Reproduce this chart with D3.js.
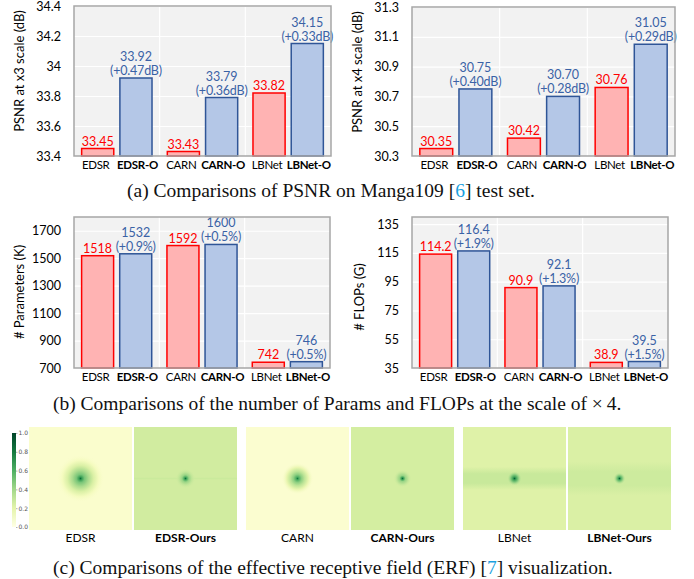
<!DOCTYPE html>
<html>
<head>
<meta charset="utf-8">
<script src="https://cdn.jsdelivr.net/npm/d3@7"></script>
<style>
  body { margin: 0; background: #fff; }
</style>
</head>
<body>
<script>
var width = 694, height = 579;
var sans = "Lato, 'Open Sans', sans-serif";
var serif = "'Liberation Serif', 'Times New Roman', serif";

// ---- data ----
var groups = ["EDSR", "CARN", "LBNet"];
var oursNames = ["EDSR-O", "CARN-O", "LBNet-O"];

var psnrX3Base = [33.45, 33.43, 33.82];
var psnrX3Ours = [33.92, 33.79, 34.15];
var psnrX3Gain = ["(+0.47dB)", "(+0.36dB)", "(+0.33dB)"];
var psnrX3Ticks = [33.4, 33.6, 33.8, 34, 34.2, 34.4];

var psnrX4Base = [30.35, 30.42, 30.76];
var psnrX4Ours = [30.75, 30.70, 31.05];
var psnrX4Gain = ["(+0.40dB)", "(+0.28dB)", "(+0.29dB)"];
var psnrX4Ticks = [30.3, 30.5, 30.7, 30.9, 31.1, 31.3];

var paramsBase = [1518, 1592, 742];
var paramsOurs = [1532, 1600, 746];
var paramsGain = ["(+0.9%)", "(+0.5%)", "(+0.5%)"];
var paramsTicks = [700, 900, 1100, 1300, 1500, 1700];

var flopsBase = [114.2, 90.9, 38.9];
var flopsOurs = [116.4, 92.1, 39.5];
var flopsGain = ["(+1.9%)", "(+1.3%)", "(+1.5%)"];
var flopsTicks = [35, 55, 75, 95, 115, 135];

// ERF panels: background value, optional horizontal band [halfHeight, value], radial profile [radius, value]
var erfNames = ["EDSR", "EDSR-Ours", "CARN", "CARN-Ours", "LBNet", "LBNet-Ours"];
var erfBg = [0.07, 0.27, 0.06, 0.26, 0.22, 0.24];
var erfBand = [null, [1, 0.29], null, null, [9, 0.295], [13, 0.28]];
var erfProfile = [
  [[0, 0.85], [1.5, 0.66], [4, 0.5], [8, 0.38], [13, 0.24], [18, 0.12], [24, 0.07]],
  [[0, 0.85], [1.5, 0.6], [3.5, 0.42], [6, 0.33], [10, 0.27]],
  [[0, 0.8], [1.5, 0.6], [4, 0.45], [7, 0.33], [11, 0.18], [16, 0.06]],
  [[0, 0.85], [1.5, 0.6], [3, 0.42], [6, 0.31], [9, 0.26]],
  [[0, 0.9], [1.5, 0.65], [4, 0.45], [7, 0.32]],
  [[0, 0.9], [1.5, 0.6], [3.5, 0.42], [6, 0.3]]
];
var colorbarTicks = [0, 0.2, 0.4, 0.6, 0.8, 1.0];

var svg = d3.select("body").append("svg")
  .attr("width", width)
  .attr("height", height)
  .style("font-family", sans);
var defs = svg.append("defs");

var redFill = "#ffb3b3", redLine = "#ff0000";
var blueFill = "#b4c7e7", blueLine = "#2f5597", blueText = "#3a62a6";

function barChart(o) {
  var w = o.right - o.left, h = o.bottom - o.top;
  var g = svg.append("g").attr("transform", "translate(" + o.left + "," + o.top + ")");
  var y = d3.scaleLinear().domain(o.domain).range([h, 0]);
  var x0 = d3.scaleBand().domain(groups).range([0, w]);
  var x1 = d3.scaleBand().domain([0, 1]).range([0, x0.bandwidth()])
    .paddingInner(0.16).paddingOuter(0.2);

  g.append("rect").attr("width", w).attr("height", h).attr("fill", "#f2f2f2");

  // horizontal grid
  g.append("g")
    .call(d3.axisLeft(y).tickValues(o.ticks).tickSize(-w).tickFormat(""))
    .call(function(a) {
      a.select(".domain").remove();
      a.selectAll("line").attr("stroke", "#fff").attr("stroke-width", 1.2);
    });
  // vertical grid between groups
  g.selectAll(".vg").data(groups.slice(1)).join("line")
    .attr("x1", function(d) { return x0(d); })
    .attr("x2", function(d) { return x0(d); })
    .attr("y1", 0).attr("y2", h)
    .attr("stroke", "#fff").attr("stroke-width", 1.2);

  // tick labels
  g.append("g")
    .call(d3.axisLeft(y).tickValues(o.ticks).tickSize(0).tickPadding(13)
      .tickFormat(function(d) { return String(+d.toFixed(2)); }))
    .call(function(a) {
      a.select(".domain").remove();
      a.selectAll("text").attr("font-size", 12.5).attr("fill", "#000")
        .attr("font-family", sans);
    });

  var fmt = d3.format(o.fmt);
  groups.forEach(function(gr, i) {
    var xb = x0(gr) + x1(0), xo = x0(gr) + x1(1), bw = x1.bandwidth();
    var vb = o.base[i], vo = o.ours[i];
    g.append("rect").attr("x", xb).attr("y", y(vb))
      .attr("width", bw).attr("height", h - y(vb))
      .attr("fill", redFill).attr("stroke", redLine).attr("stroke-width", 1.5);
    g.append("rect").attr("x", xo).attr("y", y(vo))
      .attr("width", bw).attr("height", h - y(vo))
      .attr("fill", blueFill).attr("stroke", blueLine).attr("stroke-width", 1.5);

    g.append("text").attr("x", xb + bw / 2).attr("y", y(vb) - 3)
      .attr("text-anchor", "middle").attr("font-size", 12.5).attr("fill", redLine)
      .text(fmt(vb));
    g.append("text").attr("x", xo + bw / 2).attr("y", y(vo) - 17)
      .attr("text-anchor", "middle").attr("font-size", 12.5).attr("fill", blueText)
      .text(fmt(vo));
    g.append("text").attr("x", xo + bw / 2).attr("y", y(vo) - 3)
      .attr("text-anchor", "middle").attr("font-size", 12.5).attr("fill", blueText)
      .attr("letter-spacing", -0.2).text(o.gain[i]);

    // category labels
    g.append("text").attr("x", xb + bw / 2 - 2).attr("y", h + 12.5)
      .attr("text-anchor", "middle").attr("font-size", 11.5).attr("letter-spacing", -0.3)
      .text(gr);
    g.append("text").attr("x", xo + bw / 2 + 1.5).attr("y", h + 12.5)
      .attr("text-anchor", "middle").attr("font-size", 11.5).attr("letter-spacing", -0.3)
      .attr("font-weight", "bold").text(oursNames[i]);
  });

  g.append("rect").attr("width", w).attr("height", h)
    .attr("fill", "none").attr("stroke", "#a6a6a6").attr("stroke-width", 1.5);

  svg.append("text")
    .attr("transform", "translate(" + o.titleX + "," + o.titleY + ") rotate(-90)")
    .attr("text-anchor", "middle").attr("font-size", 13).text(o.title);
}

barChart({ left: 74, right: 331, top: 6, bottom: 156, domain: [33.4, 34.4], ticks: psnrX3Ticks,
  base: psnrX3Base, ours: psnrX3Ours, gain: psnrX3Gain, fmt: ".2f",
  title: "PSNR at x3 scale (dB)", titleX: 24, titleY: 71 });
barChart({ left: 412, right: 675, top: 7, bottom: 156, domain: [30.3, 31.3], ticks: psnrX4Ticks,
  base: psnrX4Base, ours: psnrX4Ours, gain: psnrX4Gain, fmt: ".2f",
  title: "PSNR at x4 scale (dB)", titleX: 362, titleY: 72 });
barChart({ left: 74, right: 330, top: 217, bottom: 368, domain: [700, 1800], ticks: paramsTicks,
  base: paramsBase, ours: paramsOurs, gain: paramsGain, fmt: "d",
  title: "# Parameters (K)", titleX: 24, titleY: 292 });
barChart({ left: 412, right: 668, top: 217, bottom: 368, domain: [35, 140], ticks: flopsTicks,
  base: flopsBase, ours: flopsOurs, gain: flopsGain, fmt: ".1f",
  title: "# FLOPs (G)", titleX: 364, titleY: 297 });

// ---- captions ----
function caption(x, y, parts) {
  var t = svg.append("text").attr("x", x).attr("y", y)
    .style("font-family", serif).attr("font-size", 19.5).attr("fill", "#111");
  parts.forEach(function(p) {
    t.append("tspan").attr("fill", p[1] ? "#1a9fe0" : "#111").text(p[0]);
  });
}
caption(127, 197, [["(a) Comparisons of PSNR on Manga109 ["], ["6", 1], ["] test set."]]);
caption(53, 410, [["(b) Comparisons of the number of Params and FLOPs at the scale of \u00d7\u20094."]]);
caption(53, 574, [["(c) Comparisons of the effective receptive field (ERF) ["], ["7", 1], ["] visualization."]]);

// ---- ERF panels ----
var color = d3.scaleSequential(d3.interpolateYlGn).domain([0, 1]);
var pTop = 427, pSize = 103;

erfNames.forEach(function(name, i) {
  var px = 29 + Math.floor(i / 2) * 217 + (i % 2) * 105;
  var cx = px + pSize / 2, cy = pTop + pSize / 2;
  var g = svg.append("g");
  g.append("rect").attr("x", px).attr("y", pTop).attr("width", pSize).attr("height", pSize)
    .attr("fill", color(erfBg[i]));

  if (erfBand[i]) {
    var hh = erfBand[i][0], bv = erfBand[i][1];
    var lg = defs.append("linearGradient").attr("id", "band" + i)
      .attr("x1", 0).attr("y1", 0).attr("x2", 0).attr("y2", 1);
    [[0, 0], [0.3, 1], [0.7, 1], [1, 0]].forEach(function(s) {
      lg.append("stop").attr("offset", s[0]).attr("stop-color", color(bv)).attr("stop-opacity", s[1]);
    });
    g.append("rect").attr("x", px).attr("y", cy - hh * 1.3).attr("width", pSize)
      .attr("height", hh * 2.6).attr("fill", "url(#band" + i + ")");
  }

  var prof = erfProfile[i];
  var R = prof[prof.length - 1][0];
  var rg = defs.append("radialGradient").attr("id", "erf" + i)
    .attr("gradientUnits", "userSpaceOnUse").attr("cx", cx).attr("cy", cy).attr("r", R);
  prof.forEach(function(s, k) {
    rg.append("stop").attr("offset", s[0] / R).attr("stop-color", color(s[1]))
      .attr("stop-opacity", k === prof.length - 1 ? 0 : 1);
  });
  g.append("circle").attr("cx", cx).attr("cy", cy).attr("r", R).attr("fill", "url(#erf" + i + ")");

  g.append("text").attr("x", cx).attr("y", pTop + pSize + 12)
    .attr("text-anchor", "middle").attr("font-size", 12)
    .attr("font-weight", i % 2 ? "bold" : "normal").text(name);
});

// colorbar
var cbTop = 433, cbBot = 527;
var cg = defs.append("linearGradient").attr("id", "cbar")
  .attr("x1", 0).attr("y1", 1).attr("x2", 0).attr("y2", 0);
colorbarTicks.forEach(function(v) {
  cg.append("stop").attr("offset", v).attr("stop-color", color(v));
});
svg.append("rect").attr("x", 12).attr("y", cbTop).attr("width", 4).attr("height", cbBot - cbTop)
  .attr("fill", "url(#cbar)");
var cy = d3.scaleLinear().domain([0, 1]).range([cbBot, cbTop]);
svg.append("g").attr("transform", "translate(16,0)")
  .call(d3.axisRight(cy).tickValues(colorbarTicks).tickSize(1.5).tickPadding(1)
    .tickFormat(d3.format(".1f")))
  .call(function(a) {
    a.select(".domain").remove();
    a.selectAll("line").attr("stroke", "#666").attr("stroke-width", 0.5);
    a.selectAll("text").attr("font-size", 6).attr("fill", "#555")
      .attr("font-family", "'DejaVu Sans', sans-serif");
  });
</script>
</body>
</html>
